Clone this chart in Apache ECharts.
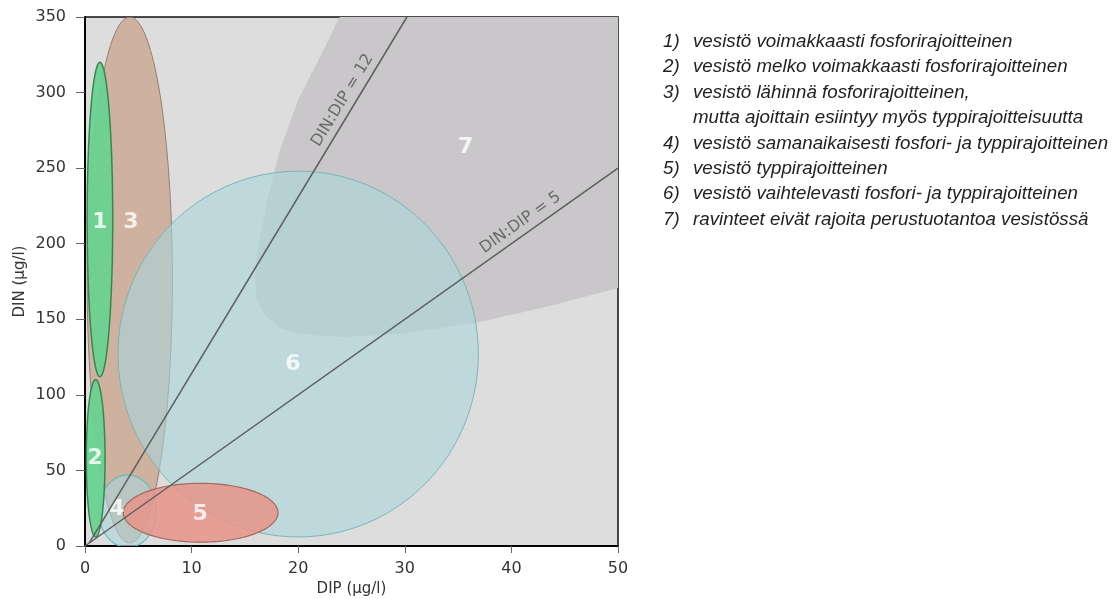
<!DOCTYPE html>
<html><head><meta charset="utf-8">
<script src="https://cdn.jsdelivr.net/npm/echarts@6/dist/echarts.min.js"></script>
<style>html,body{margin:0;padding:0;background:#fff}#c{width:1115px;height:599px}</style>
</head><body><div id="c"></div>
<script>
// ---- data ----
const xTicks = [0, 10, 20, 30, 40, 50];
const yTicks = [0, 50, 100, 150, 200, 250, 300, 350];
// ellipse zones: [centre DIP, centre DIN, half-width DIP, half-height DIN]
const zone1 = [1.4, 216, 1.2, 104];
const zone2 = [1.0, 58, 0.88, 52];
const zone3 = [4.2, 176, 4.0, 174];
const zone4 = [4.0, 23, 2.7, 24];
const zone5 = [10.85, 22, 7.25, 19.5];
const zone6 = [20, 127, 16.9, 121];
// zone 7 boundary [DIP, DIN]
const zone7 = [[23.9,350],[21.9,321.6],[20.0,295.2],[18.3,262.1],[17.1,229],[16.2,195.9],[15.95,176],
  [16.1,162.8],[16.9,152.9],[18.3,144.3],[20.2,140.3],[23.9,138.3],[29.6,140.3],[37.0,148.2],
  [43.6,158.8],[50,170.7],[50,350]];
const ratio12 = [[0.4, 2], [30.2, 350]];
const ratio5 = [[0, 0], [50, 250]];
const ratioLabels = ['DIN:DIP = 12', 'DIN:DIP = 5'];
const zoneNumbers = ['1', '2', '3', '4', '5', '6', '7'];
const zoneNumberPos = [[1.4, 214], [0.95, 58], [4.3, 214], [3.0, 24], [10.8, 21], [19.5, 120], [35.7, 264]];
const legendNums = ['1)', '2)', '3)', '', '4)', '5)', '6)', '7)'];
const legendTexts = [
  'vesistö voimakkaasti fosforirajoitteinen',
  'vesistö melko voimakkaasti fosforirajoitteinen',
  'vesistö lähinnä fosforirajoitteinen,',
  'mutta ajoittain esiintyy myös typpirajoitteisuutta',
  'vesistö samanaikaisesti fosfori- ja typpirajoitteinen',
  'vesistö typpirajoitteinen',
  'vesistö vaihtelevasti fosfori- ja typpirajoitteinen',
  'ravinteet eivät rajoita perustuotantoa vesistössä'
];

// ---- chart ----
const chart = echarts.init(document.getElementById('c'), null, {renderer: 'canvas'});
const FONT = 'DejaVu Sans';

function ellipseSeries(z, fill, stroke, lw) {
  return {
    type: 'custom', clip: true, silent: true,
    data: [z],
    renderItem: function (params, api) {
      const cx = api.value(0), cy = api.value(1), rx = api.value(2), ry = api.value(3);
      const pts = [];
      for (let i = 0; i < 160; i++) {
        const t = i / 160 * Math.PI * 2;
        pts.push(api.coord([cx + rx * Math.cos(t), cy + ry * Math.sin(t)]));
      }
      return {type: 'polygon', shape: {points: pts}, style: {fill: fill, stroke: stroke, lineWidth: lw}};
    }
  };
}

const legendGraphics = [];
legendTexts.forEach(function (t, i) {
  const y = 42 + i * 25.4;
  if (legendNums[i]) legendGraphics.push({type: 'text', x: 663, y: y, scaleX: 1.04,
    style: {text: legendNums[i], font: 'italic 18px "Liberation Sans"', fill: '#222', verticalAlign: 'middle'}});
  legendGraphics.push({type: 'text', x: 693, y: y, scaleX: 1.04,
    style: {text: t, font: 'italic 18px "Liberation Sans"', fill: '#222', verticalAlign: 'middle'}});
});

const option = {
  animation: false,
  backgroundColor: '#fff',
  grid: {left: 85, top: 17, right: 497, bottom: 53, show: true, backgroundColor: '#dddddd',
    borderColor: '#111', borderWidth: 1.5, containLabel: false, outerBoundsMode: 'none'},
  xAxis: {
    type: 'value', min: xTicks[0], max: xTicks[xTicks.length - 1], interval: 10,
    name: 'DIP (µg/l)', nameLocation: 'middle', nameGap: 33,
    nameTextStyle: {fontFamily: FONT, fontSize: 15, color: '#333'},
    axisLine: {show: true, lineStyle: {color: '#000', width: 2}},
    axisTick: {show: true, length: 7, lineStyle: {color: '#666'}},
    axisLabel: {fontFamily: FONT, fontSize: 16, color: '#333', margin: 15},
    splitLine: {show: false}
  },
  yAxis: {
    type: 'value', min: yTicks[0], max: yTicks[yTicks.length - 1], interval: 50,
    name: 'DIN (µg/l)', nameLocation: 'middle', nameGap: 57,
    nameTextStyle: {fontFamily: FONT, fontSize: 15, color: '#333'},
    axisLine: {show: true, lineStyle: {color: '#000', width: 2}},
    axisTick: {show: true, length: 9, lineStyle: {color: '#666'}},
    axisLabel: {fontFamily: FONT, fontSize: 16, color: '#333', margin: 19},
    splitLine: {show: false}
  },
  graphic: legendGraphics,
  series: [
    {
      type: 'custom', clip: true, silent: true, data: [0],
      renderItem: function (params, api) {
        return {type: 'polygon', shape: {points: zone7.map(function (p) { return api.coord(p); })},
          style: {fill: '#c9c7c9'}};
      }
    },
    ellipseSeries(zone3, 'rgba(200,160,135,0.72)', 'rgba(140,120,105,0.9)', 1),
    ellipseSeries(zone6, 'rgba(170,213,220,0.6)', 'rgba(110,180,180,0.9)', 1),
    ellipseSeries(zone4, 'rgba(170,213,220,0.6)', 'rgba(100,185,185,0.95)', 1.2),
    ellipseSeries(zone5, 'rgba(232,148,136,0.85)', 'rgba(160,95,85,0.9)', 1.2),
    ellipseSeries(zone1, 'rgba(105,210,145,0.95)', '#3a8650', 1.5),
    ellipseSeries(zone2, 'rgba(105,210,145,0.95)', '#3a8650', 1.5),
    {type: 'line', data: ratio12, symbol: 'none', silent: true, lineStyle: {color: '#5e5e5e', width: 1.5}},
    {type: 'line', data: ratio5, symbol: 'none', silent: true, lineStyle: {color: '#5e5e5e', width: 1.5}},
    {
      type: 'custom', silent: true, data: [[0, 0.83], [1, 0.83]],
      renderItem: function (params, api) {
        const idx = api.value(0), t = api.value(1);
        const L = idx === 0 ? ratio12 : ratio5;
        const p1 = api.coord(L[0]), p2 = api.coord(L[1]);
        const a = Math.atan2(p1[1] - p2[1], p2[0] - p1[0]);
        const px = p1[0] + (p2[0] - p1[0]) * t, py = p1[1] + (p2[1] - p1[1]) * t;
        const off = 12;
        return {type: 'text', x: px - Math.sin(a) * off, y: py - Math.cos(a) * off, rotation: a,
          style: {text: ratioLabels[idx], font: '16px "DejaVu Sans"', fill: '#6a6a6a', align: 'center', verticalAlign: 'middle'}};
      }
    },
    {
      type: 'scatter', silent: true, symbolSize: 1, itemStyle: {color: 'rgba(0,0,0,0)'},
      data: zoneNumberPos.map(function (p, i) { return {name: zoneNumbers[i], value: p}; }),
      label: {show: true, position: 'inside', formatter: '{b}', color: '#fff', fontFamily: FONT,
        fontWeight: 'bold', fontSize: 22}
    }
  ]
};
chart.setOption(option);
</script>
</body></html>
